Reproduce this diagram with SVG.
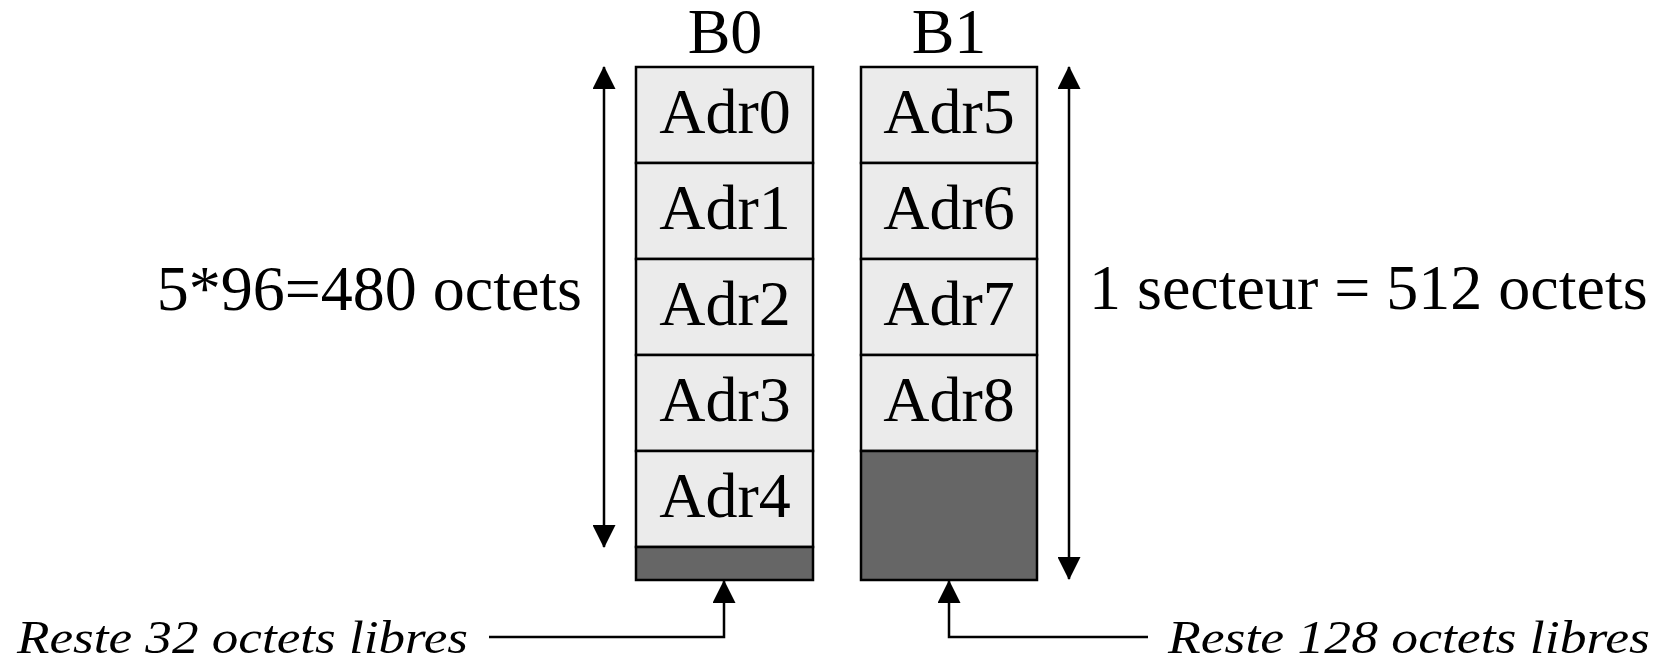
<svg xmlns="http://www.w3.org/2000/svg" width="1657" height="658" viewBox="0 0 1657 658">
<style>
.cell{fill:#ebebeb;stroke:#000;stroke-width:2.5}
.free{fill:#666666;stroke:#000;stroke-width:2.5}
.t{font-family:"Liberation Serif","Times New Roman",serif;font-size:64px;fill:#000}
.c{text-anchor:middle}
.i{font-family:"Liberation Serif","Times New Roman",serif;font-style:italic;font-size:47px;fill:#000}
.ln{fill:none;stroke:#000;stroke-width:2.5}
</style>
<defs>
<marker id="ah" markerUnits="userSpaceOnUse" markerWidth="23" markerHeight="23" viewBox="0 0 23 23" refX="22" refY="11.5" orient="auto-start-reverse">
<path d="M0,0 L23,11.5 L0,23 z" fill="#000"/>
</marker>
</defs>
<rect width="1657" height="658" fill="#fff"/>
<g id="B0">
<text class="t c" x="725" y="53">B0</text>
<g id="adr0"><rect class="cell" x="636" y="67" width="177" height="96"/><text class="t c" x="725" y="133">Adr0</text></g>
<g id="adr1"><rect class="cell" x="636" y="163" width="177" height="96"/><text class="t c" x="725" y="229">Adr1</text></g>
<g id="adr2"><rect class="cell" x="636" y="259" width="177" height="96"/><text class="t c" x="725" y="325">Adr2</text></g>
<g id="adr3"><rect class="cell" x="636" y="355" width="177" height="96"/><text class="t c" x="725" y="421">Adr3</text></g>
<g id="adr4"><rect class="cell" x="636" y="451" width="177" height="96"/><text class="t c" x="725" y="517">Adr4</text></g>
<g id="free0"><rect class="free" x="636" y="547" width="177" height="33"/></g>
</g>
<g id="B1">
<text class="t c" x="949" y="53">B1</text>
<g id="adr5"><rect class="cell" x="861" y="67" width="176" height="96"/><text class="t c" x="949" y="133">Adr5</text></g>
<g id="adr6"><rect class="cell" x="861" y="163" width="176" height="96"/><text class="t c" x="949" y="229">Adr6</text></g>
<g id="adr7"><rect class="cell" x="861" y="259" width="176" height="96"/><text class="t c" x="949" y="325">Adr7</text></g>
<g id="adr8"><rect class="cell" x="861" y="355" width="176" height="96"/><text class="t c" x="949" y="421">Adr8</text></g>
<g id="free1"><rect class="free" x="861" y="451" width="176" height="129"/></g>
</g>
<g id="labels">
<text class="t" x="582" y="310" text-anchor="end">5*96=480 octets</text>
<text class="t" x="1089" y="309">1 secteur = 512 octets</text>
<text class="i" x="17" y="653" textLength="451" lengthAdjust="spacingAndGlyphs">Reste 32 octets libres</text>
<text class="i" x="1168" y="653" textLength="482" lengthAdjust="spacingAndGlyphs">Reste 128 octets libres</text>
</g>
<g id="connectors">
<line class="ln" x1="604" y1="67" x2="604" y2="547" marker-start="url(#ah)" marker-end="url(#ah)"/>
<line class="ln" x1="1069" y1="67" x2="1069" y2="579" marker-start="url(#ah)" marker-end="url(#ah)"/>
<path class="ln" d="M489,637 H724 V581" marker-end="url(#ah)"/>
<path class="ln" d="M1148,637 H949 V581" marker-end="url(#ah)"/>
</g>
</svg>
